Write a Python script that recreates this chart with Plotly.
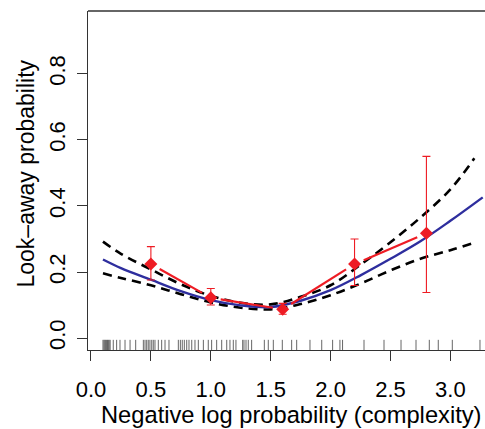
import math
import plotly.graph_objects as go

# ---- data ----
obs_x = [0.5, 1.0, 1.6, 2.2, 2.8]
obs_y = [0.224, 0.122, 0.087, 0.224, 0.317]
obs_hi = [0.277, 0.150, 0.105, 0.300, 0.550]
obs_lo = [0.176, 0.100, 0.072, 0.159, 0.138]

fit_x = [0.1, 0.25, 0.5, 0.75, 1.0, 1.25, 1.5, 1.75, 2.0, 2.25, 2.5, 2.75, 3.0, 3.27]
fit_y = [0.238, 0.212, 0.177, 0.142, 0.115, 0.099, 0.094, 0.113, 0.145, 0.19, 0.24, 0.293, 0.355, 0.426]

ci_x = [0.1, 0.25, 0.5, 0.75, 1.0, 1.25, 1.5, 1.75, 2.0, 2.25, 2.5, 2.75, 3.0, 3.2]
ci_hi = [0.292, 0.255, 0.208, 0.163, 0.128, 0.107, 0.102, 0.125, 0.16, 0.222, 0.29, 0.365, 0.45, 0.544]
ci_lo = [0.196, 0.182, 0.16, 0.133, 0.108, 0.092, 0.087, 0.103, 0.13, 0.165, 0.205, 0.24, 0.266, 0.289]

rug_x = [0.10, 0.108, 0.115, 0.122, 0.13, 0.138, 0.145, 0.152, 0.16,
         0.186, 0.214, 0.242, 0.284, 0.326, 0.373,
         0.437, 0.451, 0.465, 0.478, 0.492, 0.507, 0.52, 0.534, 0.562, 0.59, 0.618, 0.651,
         0.729, 0.746, 0.762, 0.779, 0.799, 0.818, 0.841, 0.868, 0.896, 0.938,
         0.979, 1.007, 1.049, 1.091, 1.133, 1.16, 1.188, 1.21, 1.266, 1.277, 1.294, 1.313, 1.341,
         1.447, 1.48, 1.522, 1.597, 1.675, 1.717, 1.828, 1.926, 2.017, 2.078, 2.1,
         2.279, 2.446, 2.588, 2.713, 2.824, 2.899, 3.016, 3.247]

x_ticks = [0.0, 0.5, 1.0, 1.5, 2.0, 2.5, 3.0]
y_ticks = [0.0, 0.2, 0.4, 0.6, 0.8]
x_title = "Negative log probability (complexity)"
y_title = "Look–away probability"

# ---- layout constants ----
W, H = 485, 429
M_L, M_R, M_T, M_B = 88, 0, 11, 79
XR = [-0.025, 3.289]
YR = [-0.036, 0.99]
PW = W - M_L - M_R
PH = H - M_T - M_B
ppx = PW / (XR[1] - XR[0])
ppy = PH / (YR[1] - YR[0])

RED = "#ee1c24"
BLUE = "#2e2e9e"
FONT = "Liberation Sans"

# red connecting segments with gaps around points (R type="b")
GAP = 10
seg_x, seg_y = [], []
for i in range(len(obs_x) - 1):
    dx = obs_x[i + 1] - obs_x[i]
    dy = obs_y[i + 1] - obs_y[i]
    L = math.hypot(dx * ppx, dy * ppy)
    if L > 2 * GAP:
        f = GAP / L
        seg_x += [obs_x[i] + f * dx, obs_x[i + 1] - f * dx, None]
        seg_y += [obs_y[i] + f * dy, obs_y[i + 1] - f * dy, None]

# rug ticks
rug_h = 0.03 * (YR[1] - YR[0])
rx, ry = [], []
for v in rug_x:
    rx += [v, v, None]
    ry += [YR[0], YR[0] + rug_h, None]

fig = go.Figure()
fig.add_trace(go.Scatter(x=rx, y=ry, mode="lines", line=dict(color="#555555", width=0.9),
                         hoverinfo="skip", showlegend=False))
fig.add_trace(go.Scatter(x=ci_x, y=ci_hi, mode="lines", line=dict(color="black", width=2.6, dash="9px,6px", shape="spline"),
                         showlegend=False))
fig.add_trace(go.Scatter(x=ci_x, y=ci_lo, mode="lines", line=dict(color="black", width=2.6, dash="9px,6px", shape="spline"),
                         showlegend=False))
fig.add_trace(go.Scatter(x=fit_x, y=fit_y, mode="lines", line=dict(color=BLUE, width=2.4, shape="spline"),
                         showlegend=False))
fig.add_trace(go.Scatter(x=seg_x, y=seg_y, mode="lines", line=dict(color=RED, width=2.2),
                         showlegend=False))
fig.add_trace(go.Scatter(
    x=obs_x, y=obs_y, mode="markers",
    marker=dict(symbol="diamond", size=10, color=RED, line=dict(width=0)),
    error_y=dict(type="data", symmetric=False,
                 array=[h - y for h, y in zip(obs_hi, obs_y)],
                 arrayminus=[y - l for y, l in zip(obs_y, obs_lo)],
                 color=RED, thickness=1.1, width=4),
    showlegend=False))

fig.update_layout(
    width=W, height=H,
    margin=dict(l=M_L, r=M_R, t=M_T, b=M_B, autoexpand=False),
    paper_bgcolor="white", plot_bgcolor="white",
    font=dict(family=FONT, size=22, color="black"),
    xaxis=dict(range=XR, tickvals=x_ticks, ticktext=[f"{v:.1f}" for v in x_ticks],
               ticks="outside", ticklen=10, tickwidth=1, tickcolor="#333",
               showline=True, linecolor="#333", linewidth=1.3, mirror=False,
               showgrid=False, zeroline=False, automargin=False,
               ticklabelstandoff=9, tickfont=dict(size=22)),
    yaxis=dict(range=YR, tickvals=y_ticks, ticktext=[f"{v:.1f}" for v in y_ticks],
               ticks="outside", ticklen=10, tickwidth=1, tickcolor="#333", tickangle=-90,
               showline=True, linecolor="#333", linewidth=1.3, mirror=False,
               showgrid=False, zeroline=False, automargin=False,
               ticklabelstandoff=3, tickfont=dict(size=22)),
    shapes=[dict(type="line", xref="paper", yref="paper", x0=0, x1=1, y0=1, y1=1,
                 line=dict(color="#333", width=1.3))],
    annotations=[
        dict(text=x_title, xref="paper", yref="paper",
             x=(291 - M_L) / PW, y=-(415 - (H - M_B)) / PH,
             xanchor="center", yanchor="middle", showarrow=False,
             font=dict(size=23.7)),
        dict(text=y_title, xref="paper", yref="paper",
             x=-(M_L - 25) / PW, y=(H - M_B - 173.5) / PH,
             xanchor="center", yanchor="middle", textangle=-90, showarrow=False,
             font=dict(size=23)),
    ],
)

fig.write_html("out.html", config={"displayModeBar": False},
               post_script="document.body.style.margin='0';document.body.style.overflow='hidden';")
